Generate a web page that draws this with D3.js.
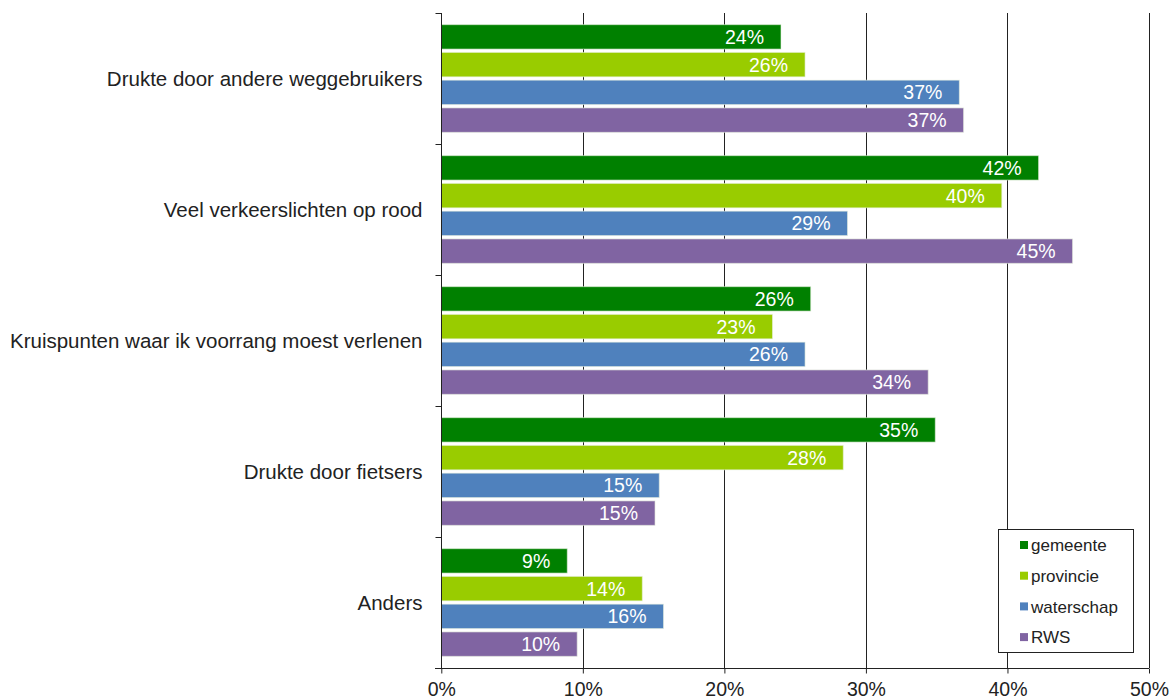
<!DOCTYPE html>
<html><head><meta charset="utf-8">
<script src="https://cdn.jsdelivr.net/npm/d3@7"></script>
<style>body{margin:0;background:#fff;} svg{display:block;font-family:"Liberation Sans",Arial,sans-serif;}</style>
</head><body>
<svg id="c" width="1172" height="699"></svg>
<script>
const categories = ["Drukte door andere weggebruikers","Veel verkeerslichten op rood","Kruispunten waar ik voorrang moest verlenen","Drukte door fietsers","Anders"];
const seriesNames = ["gemeente","provincie","waterschap","RWS"];
const gemeente   = [0.240, 0.422, 0.261, 0.349, 0.089];
const provincie  = [0.257, 0.396, 0.234, 0.284, 0.142];
const waterschap = [0.366, 0.287, 0.257, 0.154, 0.157];
const rws        = [0.369, 0.446, 0.344, 0.151, 0.096];
const xTicks = [0, 0.1, 0.2, 0.3, 0.4, 0.5];
const colors = ["#008000","#99cc00","#4f81bd","#8064a2"];

const seriesValues = [gemeente, provincie, waterschap, rws];
const svg = d3.select("#c");
const x = d3.scaleLinear().domain([0,0.5]).range([441.3,1149]);
const y = d3.scaleBand().domain(categories).range([13,668]);
const ys = d3.scaleBand().domain(seriesNames).range([0,y.bandwidth()]).paddingInner(0.12).paddingOuter(0.42);

// gridlines
svg.append("g").selectAll("line").data(xTicks.slice(1)).join("line")
  .attr("x1",d=>Math.round(x(d))+0.5).attr("x2",d=>Math.round(x(d))+0.5)
  .attr("y1",13).attr("y2",668).attr("stroke","#222").attr("stroke-width",1);

// bars
const g = svg.append("g");
categories.forEach((c,i)=>{
  seriesNames.forEach((s,j)=>{
    const v = seriesValues[j][i];
    const y0 = y(c)+ys(s);
    g.append("rect").attr("x",x(0)).attr("y",y0).attr("width",x(v)-x(0)).attr("height",ys.bandwidth())
      .attr("fill",colors[j]).attr("stroke","#e8f0e0").attr("stroke-opacity",0.6).attr("stroke-width",1);
    g.append("text").attr("x",x(v)-17).attr("y",y0+ys.bandwidth()/2).attr("dy","0.36em")
      .attr("text-anchor","end").attr("fill","#fff").attr("font-size",19.5)
      .text(d3.format(".0%")(v));
  });
});

// x axis
const xAxis = svg.append("g").attr("transform","translate(0,668.5)")
  .call(d3.axisBottom(x).tickValues(xTicks).tickFormat(d3.format(".0%")).tickSize(5).tickSizeOuter(0));
xAxis.select(".domain").attr("d",`M435,0H${x(0.5)}`).attr("stroke","#222");
xAxis.selectAll(".tick line").attr("stroke","#222");
xAxis.selectAll(".tick text").attr("font-size",19.5).attr("fill","#222").attr("y",14).attr("dy","0.71em")
  .attr("font-family","Liberation Sans, Arial, sans-serif");

// y axis
const yAxis = svg.append("g").attr("transform","translate(441.5,0)");
yAxis.append("line").attr("x1",0).attr("x2",0).attr("y1",13).attr("y2",668).attr("stroke","#222");
yAxis.selectAll("line.t").data(categories.map(c=>y(c))).join("line").attr("class","t")
  .attr("x1",-6).attr("x2",0).attr("y1",d=>Math.round(d)+0.5).attr("y2",d=>Math.round(d)+0.5).attr("stroke","#222");
yAxis.selectAll("text").data(categories).join("text")
  .attr("x",-19).attr("y",d=>y(d)+y.bandwidth()/2).attr("dy","0.36em").attr("text-anchor","end")
  .attr("font-size",20.5).attr("fill","#222").text(d=>d);

// legend
const lg = svg.append("g");
lg.append("rect").attr("x",998.5).attr("y",529.5).attr("width",135).attr("height",123).attr("fill","#fff").attr("stroke","#222");
seriesNames.forEach((s,j)=>{
  const cy = 545 + j*30.7;
  lg.append("rect").attr("x",1020).attr("y",cy-4).attr("width",8).attr("height",8).attr("fill",colors[j]);
  lg.append("text").attr("x",1031).attr("y",cy).attr("dy","0.36em").attr("font-size",17).attr("fill","#222").text(s);
});
</script>
</body></html>
